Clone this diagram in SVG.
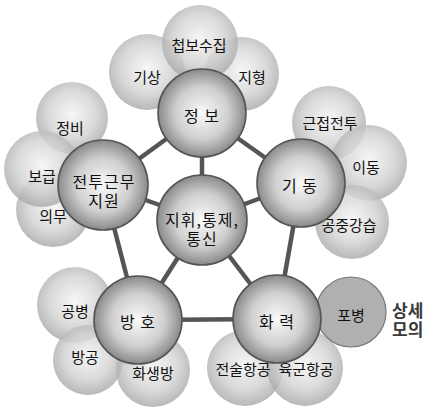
<svg xmlns="http://www.w3.org/2000/svg" width="435" height="411" viewBox="0 0 435 411">
<defs>
<radialGradient id="gMain" cx="50%" cy="50%" r="50%">
<stop offset="0" stop-color="#fafafa"/>
<stop offset="0.6" stop-color="#cfcfcf"/>
<stop offset="1" stop-color="#8a8a8a"/>
</radialGradient>
<radialGradient id="gSub" cx="50%" cy="45%" r="55%">
<stop offset="0" stop-color="#f4f4f4"/>
<stop offset="0.6" stop-color="#d2d2d2"/>
<stop offset="1" stop-color="#a8a8a8"/>
</radialGradient>
</defs>
<style>
.main{fill:url(#gMain);stroke:#555;stroke-width:1.6}
.sub{fill:url(#gSub);opacity:0.82}
.arty{fill:#b0b0b0;stroke:#777;stroke-width:1.2}
text{font-family:"Noto Sans CJK KR","Noto Sans",sans-serif;font-size:15px;fill:#111;text-anchor:middle}
.mt{font-size:16px;letter-spacing:1px}
.big{font-size:17px;font-weight:bold;fill:#3a3a3a;text-anchor:start}
.conn line{stroke:#555;stroke-width:4.5}
</style>
<g id="connectors" class="conn">
<line x1="202" y1="113" x2="202" y2="220"/>
<line x1="202" y1="220" x2="301" y2="183"/>
<line x1="202" y1="220" x2="277" y2="319"/>
<line x1="202" y1="220" x2="138" y2="320"/>
<line x1="202" y1="220" x2="103" y2="185"/>
<line x1="202" y1="113" x2="301" y2="183"/>
<line x1="301" y1="183" x2="277" y2="319"/>
<line x1="277" y1="319" x2="138" y2="320"/>
<line x1="138" y1="320" x2="103" y2="185"/>
<line x1="103" y1="185" x2="202" y2="113"/>
</g>
<g id="sub-info">
<circle class="sub" cx="147" cy="72" r="38"/>
<circle class="sub" cx="242" cy="74" r="37"/>
<circle class="sub" cx="200" cy="43" r="38"/>
<text x="147" y="83">기상</text>
<text x="252" y="83">지형</text>
<text x="199" y="51">첩보수집</text>
</g>
<g id="sub-maneuver">
<circle class="sub" cx="329" cy="123" r="37"/>
<circle class="sub" cx="369" cy="163" r="38"/>
<circle class="sub" cx="352" cy="222" r="37"/>
<text x="330" y="129">근접전투</text>
<text x="366" y="173">이동</text>
<text x="349" y="231">공중강습</text>
</g>
<g id="sub-support">
<circle class="sub" cx="72" cy="118" r="36"/>
<circle class="sub" cx="53" cy="210" r="37"/>
<circle class="sub" cx="42" cy="169" r="38"/>
<text x="70" y="134">정비</text>
<text x="42" y="182">보급</text>
<text x="53" y="222">의무</text>
</g>
<g id="sub-protect">
<circle class="sub" cx="75" cy="305" r="38"/>
<circle class="sub" cx="88" cy="360" r="35"/>
<circle class="sub" cx="153" cy="370" r="37"/>
<text x="75" y="317">공병</text>
<text x="85" y="363">방공</text>
<text x="153" y="379">화생방</text>
</g>
<g id="sub-fire">
<circle class="sub" cx="245" cy="368" r="38"/>
<circle class="sub" cx="305" cy="368" r="38"/>
<circle class="arty" cx="351" cy="312" r="35"/>
<text x="243" y="375">전술항공</text>
<text x="306" y="375">육군항공</text>
<text x="351" y="321">포병</text>
</g>
<g id="node-info">
<circle class="main" cx="202" cy="113" r="44"/>
<text class="mt" x="202" y="122">정 보</text>
</g>
<g id="node-maneuver">
<circle class="main" cx="301" cy="183" r="44"/>
<text class="mt" x="300" y="192">기 동</text>
</g>
<g id="node-support">
<circle class="main" cx="103" cy="185" r="45"/>
<text class="mt" x="104" y="188">전투근무</text>
<text class="mt" x="104" y="207">지원</text>
</g>
<g id="node-protect">
<circle class="main" cx="138" cy="320" r="44"/>
<text class="mt" x="138" y="328">방 호</text>
</g>
<g id="node-fire">
<circle class="main" cx="277" cy="319" r="44"/>
<text class="mt" x="277" y="328">화 력</text>
</g>
<g id="node-c2">
<circle class="main" cx="202" cy="220" r="45"/>
<text class="mt" x="202" y="226">지휘,통제,</text>
<text class="mt" x="202" y="245">통신</text>
</g>
<text class="big" x="392" y="317">상세</text>
<text class="big" x="392" y="336">모의</text>
</svg>
